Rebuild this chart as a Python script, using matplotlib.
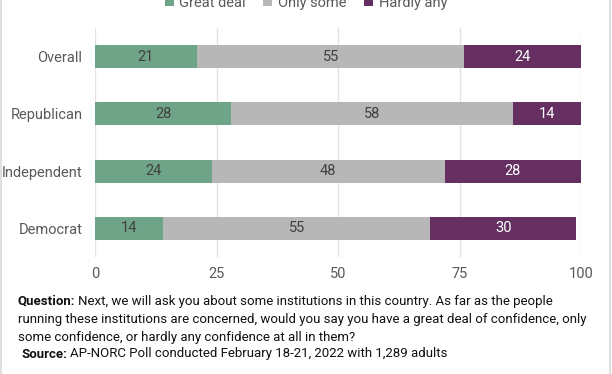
import matplotlib

matplotlib.use("Agg")
import matplotlib.pyplot as plt
from matplotlib.patches import Rectangle

plt.rcParams["font.family"] = ["Roboto", "DejaVu Sans"]

groups = ["Overall", "Republican", "Independent", "Democrat"]
great_deal = [21, 28, 24, 14]
only_some = [55, 58, 48, 55]
hardly_any = [24, 14, 28, 30]
series_names = ["Great deal", "Only some", "Hardly any"]
colors = ["#6fa488", "#b7b7b7", "#662f62"]
label_colors = ["#404040", "#404040", "#ffffff"]
x_ticks = [0, 25, 50, 75, 100]

fig = plt.figure(figsize=(6.12, 3.74), dpi=100)
ax = fig.add_axes([95 / 612, 1 - 257 / 374, 486 / 612, 229 / 374])

ypos = list(range(len(groups)))
left = [0] * len(groups)
handles = []
for vals, name, col, tcol in zip([great_deal, only_some, hardly_any], series_names, colors, label_colors):
    bars = ax.barh(ypos, vals, left=left, height=0.4, color=col, label=name, zorder=3)
    handles.append(bars)
    for y, v, l in zip(ypos, vals, left):
        ax.text(l + v / 2, y, str(v), ha="center", va="center", fontsize=10.5, color=tcol, zorder=4)
    left = [a + b for a, b in zip(left, vals)]

ax.set_xlim(0, 100)
ax.set_ylim(3.5, -0.5)
ax.set_xticks(x_ticks)
ax.set_yticks(ypos)
ax.set_yticklabels(groups)
ax.tick_params(axis="both", length=0, labelsize=10.5, labelcolor="#595959")
ax.tick_params(axis="x", pad=7.5)
ax.tick_params(axis="y", pad=9)
ax.grid(axis="x", color="#e3e3e3", linewidth=1, zorder=0)
for s in ax.spines.values():
    s.set_visible(False)

fig.legend(handles=handles, labels=series_names, loc="center", bbox_to_anchor=(0.5, 1 - 3 / 374),
           ncol=3, frameon=False, fontsize=10.5, labelcolor="#595959",
           handlelength=0.6, handleheight=0.6, handletextpad=0.4, columnspacing=1.2)

# footnote: bold lead-in followed by regular text
fs = 9.5
fig.canvas.draw()
renderer = fig.canvas.get_renderer()


def note_line(x_px, y_px, bold, rest):
    x = x_px / 612
    y = 1 - y_px / 374
    if bold:
        b = fig.text(x, y, bold, fontsize=fs, va="center", color="#111111", fontweight="bold")
        w = b.get_window_extent(renderer).width
        x += (w + 3) / 612
    fig.text(x, y, rest, fontsize=fs, va="center", color="#111111")


note_line(18, 301, "Question:", "Next, we will ask you about some institutions in this country. As far as the people")
note_line(18, 319, None, "running these institutions are concerned, would you say you have a great deal of confidence, only")
note_line(18, 337, None, "some confidence, or hardly any confidence at all in them?")
note_line(21, 354, "Source:", "AP-NORC Poll conducted February 18-21, 2022 with 1,289 adults")

fig.patches.append(Rectangle((0.5 / 612, -0.01), 609.5 / 612, 1.02, transform=fig.transFigure,
                             fill=False, edgecolor="#d9d9d9", linewidth=1.2))

fig.savefig("out.png", dpi=100)
